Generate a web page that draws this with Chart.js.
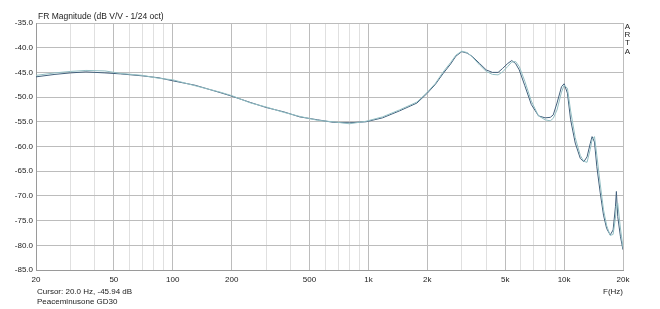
<!DOCTYPE html>
<html>
<head>
<meta charset="utf-8">
<script src="https://cdn.jsdelivr.net/npm/chart.js@4"></script>
<style>
  body { margin: 0; background: #fff; }
  #wrap { width: 660px; height: 309px; }
</style>
</head>
<body>
<div id="wrap"><canvas id="frChart" width="660" height="309"></canvas></div>
<script>
// frequencies (Hz)
const freqs = [20, 25, 30, 36, 45, 54, 70, 85, 100, 130, 175, 200, 250, 300, 370, 445, 550, 660, 800, 970,
  1180, 1440, 1770, 2000, 2200, 2400, 2630, 2800, 3000, 3200, 3400, 3700, 4000, 4300, 4600, 4850, 5150, 5400,
  5650, 5900, 6300, 6800, 7400, 8000, 8500, 8800, 9200, 9700, 10000, 10400, 10800, 11400, 12100, 12600,
  13100, 13600, 13900, 14300, 14700, 15300, 15900, 16500, 17200, 17800, 18300, 18500, 18800, 19400, 20000];

// dark trace (dB)
const darkTrace = [-45.9, -45.4, -45.1, -44.9, -45.1, -45.3, -45.7, -46.1, -46.7, -47.6, -49.1, -49.8, -51.1,
  -52.1, -53.0, -54.0, -54.6, -55.1, -55.2, -55.0, -54.2, -52.8, -51.2, -49.2, -47.4, -45.3, -43.3, -41.7,
  -40.8, -41.1, -41.8, -43.2, -44.5, -45.0, -45.0, -44.2, -43.2, -42.6, -43.2, -44.5, -47.7, -51.5, -53.8,
  -54.2, -54.1, -53.6, -51.2, -47.9, -47.3, -49.2, -54.6, -59.3, -62.4, -63.1, -62.1, -59.4, -58.0, -59.1,
  -64.1, -69.4, -73.9, -76.6, -77.9, -76.9, -72.2, -69.1, -74.2, -78.2, -80.9];

// light trace (dB)
const lightTrace = [-45.6, -45.1, -44.8, -44.6, -44.7, -45.2, -45.6, -46.2, -46.5, -47.7, -49.0, -49.7, -51.2,
  -52.0, -53.1, -53.9, -54.7, -55.0, -55.4, -54.9, -54.0, -52.6, -51.0, -49.0, -47.2, -45.0, -43.0, -41.5,
  -40.7, -41.0, -41.9, -43.5, -44.8, -45.4, -45.5, -44.9, -43.8, -42.9, -42.8, -43.8, -46.8, -50.8, -53.8,
  -54.6, -54.8, -54.3, -52.6, -49.0, -47.6, -48.2, -52.8, -58.2, -61.8, -63.0, -63.2, -60.6, -58.6, -58.0,
  -61.8, -67.6, -72.8, -76.0, -78.0, -77.8, -74.5, -72.0, -71.5, -76.5, -80.5];

const xGrid = [20, 30, 40, 50, 60, 70, 80, 90, 100, 200, 300, 400, 500, 600, 700, 800, 900, 1000,
  2000, 3000, 4000, 5000, 6000, 7000, 8000, 9000, 10000, 20000];
const xLabelVals = [20, 50, 100, 200, 500, 1000, 2000, 5000, 10000, 20000];
const xLabelText = ['20', '50', '100', '200', '500', '1k', '2k', '5k', '10k', '20k'];

const FONT = 'Liberation Sans, Arial, sans-serif';

const textPlugin = {
  id: 'artaText',
  afterDraw(chart) {
    const ctx = chart.ctx;
    ctx.save();
    ctx.fillStyle = '#222';
    ctx.textBaseline = 'middle';
    ctx.textAlign = 'left';
    ctx.font = '8.5px ' + FONT;
    ctx.fillText('FR Magnitude (dB V/V - 1/24 oct)', 38, 17);
    ctx.font = '8px ' + FONT;
    ctx.fillText('Cursor: 20.0 Hz, -45.94 dB', 37, 291.5);
    ctx.fillText('Peaceminusone GD30', 37, 301.5);
    ctx.textAlign = 'right';
    ctx.fillText('F(Hz)', 623, 291.5);
    ctx.textAlign = 'center';
    ['A', 'R', 'T', 'A'].forEach((ch, i) => ctx.fillText(ch, 627.5, 26.5 + i * 8.3));
    ctx.restore();
  }
};

new Chart(document.getElementById('frChart'), {
  type: 'line',
  data: {
    datasets: [
      {
        label: 'light',
        data: freqs.map((f, i) => ({ x: f, y: lightTrace[i] })),
        borderColor: '#93bfc4',
        borderWidth: 1,
        pointRadius: 0,
        tension: 0
      },
      {
        label: 'dark',
        data: freqs.map((f, i) => ({ x: f, y: darkTrace[i] })),
        borderColor: '#42607c',
        borderWidth: 1,
        pointRadius: 0,
        tension: 0
      }
    ]
  },
  options: {
    responsive: false,
    animation: false,
    layout: { padding: { top: 23, right: 37, left: 0, bottom: 0 } },
    plugins: { legend: { display: false }, tooltip: { enabled: false } },
    scales: {
      x: {
        type: 'logarithmic',
        min: 20,
        max: 20000,
        afterBuildTicks: (s) => { s.ticks = xGrid.map(v => ({ value: v })); },
        afterFit: (s) => { s.height = 39; },
        ticks: {
          autoSkip: false,
          maxRotation: 0,
          padding: 5,
          color: '#222',
          font: { family: FONT, size: 8 },
          callback: (v) => {
            const k = xLabelVals.indexOf(v);
            return k >= 0 ? xLabelText[k] : '';
          }
        },
        grid: {
          drawTicks: false,
          color: (c) => (c.tick && xLabelVals.includes(c.tick.value)) ? '#bcbcbc' : '#e0e0e0'
        },
        border: { color: '#9a9a9a' }
      },
      y: {
        min: -85,
        max: -35,
        afterFit: (s) => { s.width = 36; },
        ticks: {
          stepSize: 5,
          padding: 3,
          color: '#222',
          font: { family: FONT, size: 8 },
          callback: (v) => v.toFixed(1)
        },
        grid: { drawTicks: false, color: '#bcbcbc' },
        border: { color: '#9a9a9a' }
      }
    }
  },
  plugins: [textPlugin]
});
</script>
</body>
</html>
